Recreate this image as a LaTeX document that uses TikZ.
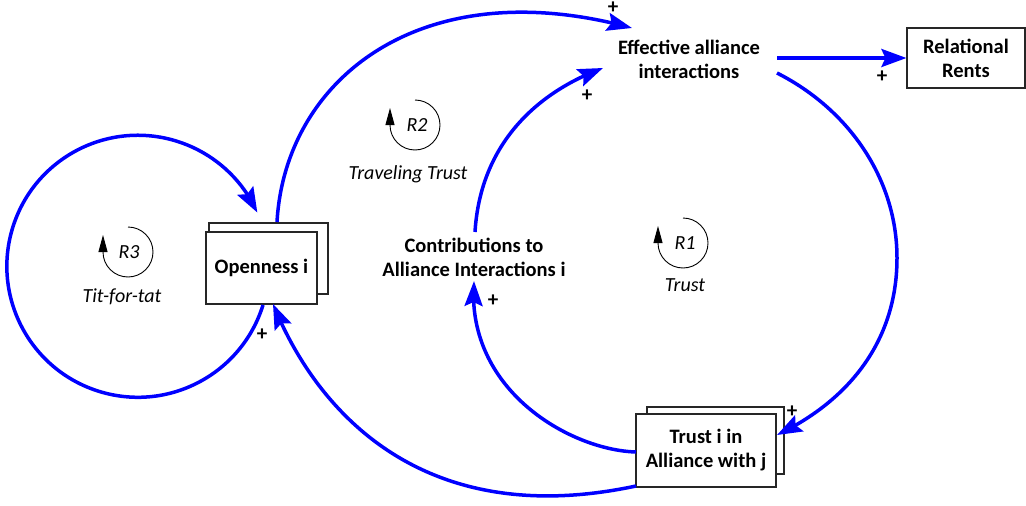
\documentclass[tikz,border=0pt]{standalone}
\usepackage{fontspec}
\setmainfont{Carlito}
\usetikzlibrary{arrows.meta,bending}
\begin{document}
\begin{tikzpicture}[x=1pt,y=-1pt,
  link/.style={draw={rgb,255:red,0;green,0;blue,255}, line width=3.5pt, -{Stealth[length=25pt,width=18pt,inset=4pt]}},
  lbl/.style={font=\bfseries\fontsize{20.5}{24}\selectfont, align=center, inner sep=0pt},
  box/.style={draw=black!85, line width=1.1pt, fill=white, inner sep=0pt},
  plus/.style={font=\bfseries\fontsize{21}{22}\selectfont, inner sep=0pt},
  loopname/.style={font=\itshape\fontsize{20}{23}\selectfont, inner sep=0pt},
  markarc/.style={draw=black, line width=0.9pt, -{Triangle[length=17pt,width=9pt]}}]
\useasboundingbox (0,0) rectangle (1026,506);

% stocks and boxes
\node[box, minimum width=119pt, minimum height=71pt] (openB) at (268.5,258.5) {};
\node[box, lbl, minimum width=111pt, minimum height=72pt] (openF) at (261.5,268) {Openness i};
\node[box, minimum width=137pt, minimum height=67pt] (trustB) at (715.5,440.5) {};
\node[box, lbl, minimum width=140pt, minimum height=73pt] (trustF) at (706,450.5) {Trust i in\\Alliance with j};
\node[box, lbl, minimum width=118pt, minimum height=60pt] (rents) at (966,58) {Relational\\Rents};
\node[lbl] (eff) at (689,59) {Effective alliance\\interactions};
\node[lbl] (contrib) at (474,257) {Contributions to\\Alliance Interactions i};

% connector ports
\coordinate (effE1) at (777,58);
\coordinate (effE2) at (777,73);
\coordinate (effW1) at (632,28);
\coordinate (effW2) at (603,68);
\coordinate (trustIn) at (777,435);
\coordinate (trustOut1) at (636,452);
\coordinate (trustOut2) at (636,486);
\coordinate (contribTop) at (475,232);
\coordinate (contribBot) at (474,281);
\coordinate (openTop) at (277,222);
\coordinate (openIn) at (257,212);
\coordinate (openOut) at (263,305);
\coordinate (openBot) at (273,304);

% connectors
\draw[link] (effE1) -- (rents.west);
\draw[link] (effE2) .. controls (850,110) and (897,180) .. (897,258)
                    .. controls (897,340) and (850,400) .. (trustIn);
\draw[link] (trustOut1) .. controls (570,450) and (465,390) .. (contribBot);
\draw[link] (contribTop) .. controls (480,150) and (530,95) .. (effW2);
\draw[link] (openTop) .. controls (285,80) and (420,-30) .. (effW1);
\draw[link] (trustOut2) .. controls (430,530) and (320,420) .. (openBot);
\draw[link] (openOut) arc[start angle=17.2, end angle=335.8, radius=131];

% polarities
\node[plus] (p1) at (613,8) {+};
\node[plus] (p2) at (587,96) {+};
\node[plus] (p3) at (882,77) {+};
\node[plus] (p4) at (792,412) {+};
\node[plus] (p5) at (493,301) {+};
\node[plus] (p6) at (262,335) {+};

% loop markers
\node[loopname] (r1) at (685,243) {R1};
\node[loopname] (r2) at (417,125) {R2};
\node[loopname] (r3) at (129,252) {R3};
\draw[markarc] (r1.center) ++(-2,-25) arc[start angle=270, end angle=540, radius=25] -- ++(0,-17);
\draw[markarc] (r2.center) ++(-2,-25) arc[start angle=270, end angle=540, radius=25] -- ++(0,-17);
\draw[markarc] (r3.center) ++(-1,-25) arc[start angle=270, end angle=540, radius=25] -- ++(0,-17);
\node[loopname] (n1) at (685,285) {Trust};
\node[loopname] (n2) at (408,174) {Traveling Trust};
\node[loopname] (n3) at (122,297) {Tit-for-tat};
\end{tikzpicture}
\end{document}
